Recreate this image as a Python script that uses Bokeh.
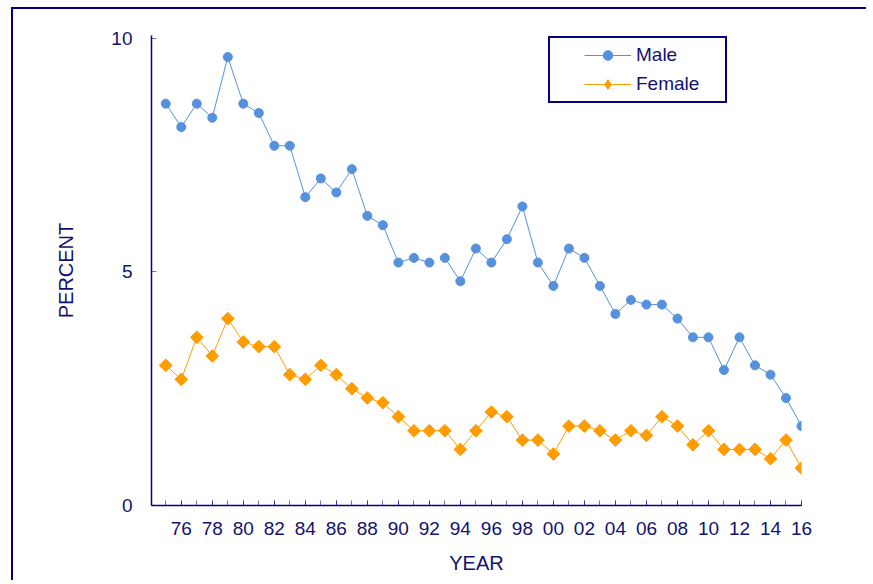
import math
from bokeh.plotting import figure
from bokeh.models import (Range1d, FixedTicker, Legend, LegendItem)
from bokeh.embed import file_html
from bokeh.resources import INLINE

years = list(range(1975, 2017))
male = [8.6, 8.1, 8.6, 8.3, 9.6, 8.6, 8.4, 7.7, 7.7, 6.6,
        7.0, 6.7, 7.2, 6.2, 6.0, 5.2, 5.3, 5.2, 5.3, 4.8,
        5.5, 5.2, 5.7, 6.4, 5.2, 4.7, 5.5, 5.3, 4.7, 4.1,
        4.4, 4.3, 4.3, 4.0, 3.6, 3.6, 2.9, 3.6, 3.0, 2.8,
        2.3, 1.7]
female = [3.0, 2.7, 3.6, 3.2, 4.0, 3.5, 3.4, 3.4, 2.8, 2.7,
          3.0, 2.8, 2.5, 2.3, 2.2, 1.9, 1.6, 1.6, 1.6, 1.2,
          1.6, 2.0, 1.9, 1.4, 1.4, 1.1, 1.7, 1.7, 1.6, 1.4,
          1.6, 1.5, 1.9, 1.7, 1.3, 1.6, 1.2, 1.2, 1.2, 1.0,
          1.4, 0.8]
male_break_year = 1993  # the male line is not drawn between 1992 and 1993
x_label_years = list(range(1976, 2017, 2))
x_labels = ["76", "78", "80", "82", "84", "86", "88", "90", "92", "94", "96",
            "98", "00", "02", "04", "06", "08", "10", "12", "14", "16"]
y_ticks = [0, 5, 10]

NAVY = "#000080"
TEXT = "#12126e"
MALE_C = "#5591dc"
FEMALE_C = "#ff9c00"
FONT = "Liberation Sans"

p = figure(width=866, height=580, output_backend="svg", toolbar_location=None,
           x_range=Range1d(1974.08, 2016.0), y_range=Range1d(0, 10.06),
           min_border_left=151, min_border_right=65,
           min_border_top=35, min_border_bottom=75)
p.outline_line_color = None
p.xgrid.visible = False
p.ygrid.visible = False
p.background_fill_color = None
p.border_fill_color = None
# outer frame of the chart (top and left edges only are visible)
p.styles = {
    "background-color": "white",
    "background-image": f"linear-gradient({NAVY},{NAVY}), linear-gradient({NAVY},{NAVY})",
    "background-size": "2px 100%, 100% 2px",
    "background-position": "11px 7px, 11px 7px",
    "background-repeat": "no-repeat",
}

# axes
p.xaxis.ticker = FixedTicker(ticks=x_label_years, minor_ticks=years)
p.xaxis.major_label_overrides = {y: l for y, l in zip(x_label_years, x_labels)}
p.yaxis.ticker = FixedTicker(ticks=y_ticks)
for ax in (p.xaxis[0], p.yaxis[0]):
    ax.axis_line_color = NAVY
    ax.axis_line_width = 1.5
    ax.major_tick_in = 5
    ax.major_tick_out = 0
    ax.minor_tick_in = 5
    ax.minor_tick_out = 0
    ax.major_tick_line_color = NAVY
    ax.minor_tick_line_color = NAVY
    ax.major_tick_line_alpha = 0.55
    ax.minor_tick_line_alpha = 0.55
    ax.major_label_text_font = FONT
    ax.major_label_text_font_size = "19px"
    ax.major_label_text_color = TEXT
    ax.axis_label_text_font = FONT
    ax.axis_label_text_font_size = "20px"
    ax.axis_label_text_font_style = "normal"
    ax.axis_label_text_color = TEXT
p.yaxis.minor_tick_line_color = None
p.xaxis.axis_label = "YEAR"
p.yaxis.axis_label = "PERCENT"
p.xaxis.major_label_standoff = 16
p.xaxis.axis_label_standoff = 14
p.yaxis.major_label_standoff = 19
p.yaxis.axis_label_standoff = 31

# data
bi = years.index(male_break_year)
ml1 = p.line(years[:bi], male[:bi], line_color=MALE_C, line_width=1)
p.line(years[bi:], male[bi:], line_color=MALE_C, line_width=1)
ms = p.scatter(years, male, marker="circle", size=9, fill_color=MALE_C,
               line_color=MALE_C)
fl = p.line(years, female, line_color=FEMALE_C, line_width=1)
fs = p.scatter(years, female, marker="square", size=9, angle=math.pi / 4,
               fill_color=FEMALE_C, line_color=FEMALE_C)
# legend-only diamond marker (legend swatches are never rotated)
fd = p.scatter(years, female, marker="diamond", size=12,
               fill_color=FEMALE_C, line_color=FEMALE_C, visible=False)

legend = Legend(items=[LegendItem(label="Male", renderers=[ml1, ms]),
                       LegendItem(label="Female", renderers=[fl, fd])],
                location=(397, 402), padding=5, margin=0, spacing=5,
                glyph_width=47, glyph_height=24, label_height=24,
                label_standoff=5, label_width=84,
                title=" ", title_location="left", title_standoff=28,
                title_text_font_size="1px",
                border_line_color=NAVY, border_line_width=2,
                border_line_alpha=1,
                background_fill_color="white", background_fill_alpha=1,
                label_text_font=FONT, label_text_font_size="19px",
                label_text_color=TEXT)
p.add_layout(legend)

open("out.html", "w").write(file_html(p, INLINE))
